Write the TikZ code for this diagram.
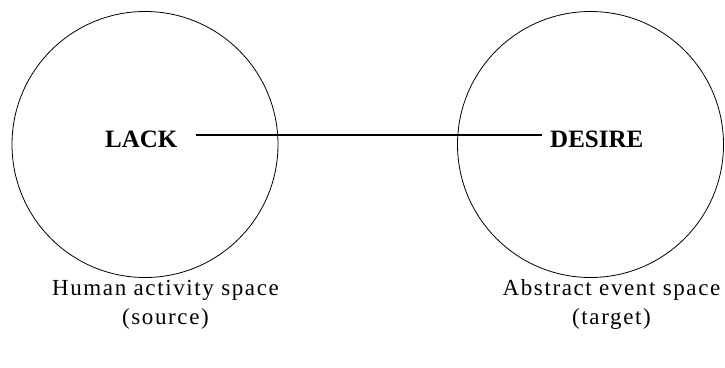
\documentclass[tikz,border=0pt]{standalone}
\usepackage{fontspec}
\setmainfont{Liberation Serif}
\usetikzlibrary{positioning}

\tikzset{
  space/.style={draw, circle, minimum size=266pt, inner sep=0pt, line width=0.8pt},
  concept/.style={font=\bfseries\fontsize{25}{28}\selectfont, inner sep=0pt},
  caption/.style={font=\fontsize{23}{29}\selectfont\addfontfeature{LetterSpace=7},
    align=center, inner sep=0pt}
}

\begin{document}
\begin{tikzpicture}[x=1pt,y=-1pt]
  \useasboundingbox (0,0) rectangle (725,367);

  % Source space
  \node[space] (source) at (145,144.5) {};
  \node[concept, anchor=base west] (lack) at (105,147) {LACK};
  \node[caption, anchor=base] (srclabel) at (165.5,324) {Human activity space\\(source)};

  % Target space
  \node[space] (target) at (590.5,144.5) {};
  \node[concept, anchor=base west] (desire) at (550,147) {DESIRE};
  \node[caption, anchor=base] (tgtlabel) at (611.5,324) {Abstract event space\\(target)};

  % Link
  \coordinate[above right=4pt and 18pt of lack.east] (linkstart);
  \coordinate[above left=4pt and 8pt of desire.west] (linkend);
  \draw[line width=2.4pt] (linkstart) -- (linkend);
\end{tikzpicture}
\end{document}
